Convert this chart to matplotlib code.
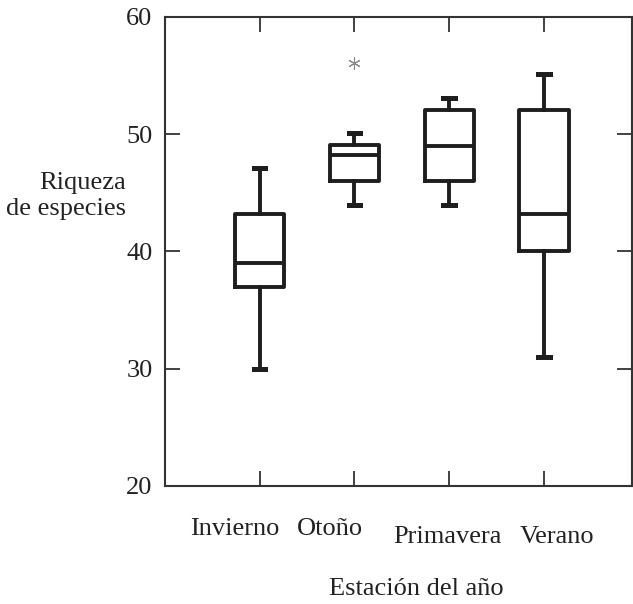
import matplotlib
matplotlib.use("Agg")
import matplotlib.pyplot as plt
import matplotlib.transforms as mtransforms

plt.rcParams['font.family'] = ['Liberation Serif', 'DejaVu Serif']

seasons = ["Invierno", "Otoño", "Primavera", "Verano"]
whislo = [30, 44, 44, 31]
q1 = [37, 46, 46, 40]
med = [39, 48.2, 49, 43.2]
q3 = [43.2, 49.1, 52.1, 52.1]
whishi = [47.1, 50.1, 53.1, 55.1]
fliers = [[], [56.1], [], []]
yticks = [20, 30, 40, 50, 60]

# label placement offsets (data x) mimicking the reference
label_x = [0.74, 1.74, 2.98, 4.14]
label_y_px = [43, 43, 51, 51]

fig = plt.figure(figsize=(6.33, 6.04), dpi=100)
ax = fig.add_axes([165/633, (604-486)/604, (632-165)/633, (486-17)/604])

stats = []
for i, s in enumerate(seasons):
    stats.append(dict(label=s, whislo=whislo[i], q1=q1[i], med=med[i],
                      q3=q3[i], whishi=whishi[i], fliers=fliers[i]))

lc = '#1e1e1e'
lw = 2.8
ax.bxp(stats, positions=[1, 2, 3, 4], widths=0.52, capwidths=0.12,
       boxprops=dict(color=lc, linewidth=lw),
       medianprops=dict(color=lc, linewidth=lw),
       whiskerprops=dict(color=lc, linewidth=lw),
       capprops=dict(color=lc, linewidth=lw + 0.8),
       flierprops=dict(marker=(6, 2, 0), markersize=9, markerfacecolor='#888888',
                       markeredgecolor='#8a8a8a', linestyle='none', markeredgewidth=0.8))

ax.set_xlim(0, 4.93)
ax.set_ylim(20, 60)
ax.set_yticks(yticks)
ax.set_xticks([1, 2, 3, 4])
ax.set_xticklabels([])
ax.tick_params(axis='both', direction='in', length=11, width=1.3, color='#333333',
               top=True, right=True, labelsize=19)
ax.tick_params(axis='y', pad=9, labelcolor='#222222')
for sp in ax.spines.values():
    sp.set_linewidth(1.5)
    sp.set_color('#333333')

trans = mtransforms.blended_transform_factory(ax.transData, ax.transAxes)
for i, s in enumerate(seasons):
    t = trans + mtransforms.ScaledTranslation(0, -label_y_px[i] / 100, fig.dpi_scale_trans)
    ax.text(label_x[i], 0, s, transform=t, ha='center', va='center',
            fontsize=19, color='#222222')

fig.text(416/633, 1 - 589/604, "Estación del año", ha='center', va='center',
         fontsize=19, color='#222222')
fig.text(126/633, 1 - 196/604, "Riqueza\nde especies", ha='right', va='center',
         multialignment='right', fontsize=19, color='#222222', linespacing=1.2)

fig.savefig("out.png", dpi=100)
